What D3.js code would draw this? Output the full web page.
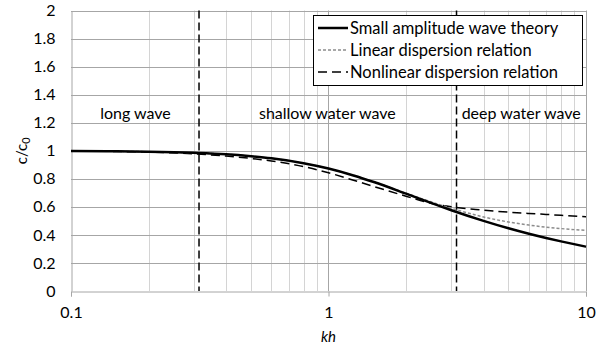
<!DOCTYPE html>
<html>
<head>
<meta charset="utf-8">
<script src="https://cdn.jsdelivr.net/npm/d3@7"></script>
<style>
  html, body { margin: 0; padding: 0; background: #fff; }
  svg { display: block; font-family: Lato, "Open Sans", sans-serif; }
</style>
</head>
<body>
<svg id="chart" width="610" height="349"></svg>
<script>
// kh sample points shared by all three curves
const kh = [0.1, 0.15, 0.2, 0.3, 0.4, 0.5, 0.6, 0.8, 1, 1.25, 1.5, 2, 2.5, 3, 4, 5, 6, 7, 8, 10];

// c/c0 for each theory
const smallAmplitude = [0.998, 0.996, 0.993, 0.985, 0.975, 0.961, 0.946, 0.911, 0.873, 0.824, 0.777, 0.694, 0.628, 0.576, 0.500, 0.447, 0.408, 0.378, 0.354, 0.316];
const linearDispersion = [0.998, 0.996, 0.993, 0.985, 0.975, 0.961, 0.946, 0.911, 0.873, 0.824, 0.778, 0.698, 0.636, 0.590, 0.528, 0.492, 0.470, 0.455, 0.445, 0.432];
const nonlinearDispersion = [0.998, 0.995, 0.990, 0.978, 0.962, 0.945, 0.927, 0.887, 0.843, 0.790, 0.745, 0.676, 0.625, 0.600, 0.577, 0.562, 0.553, 0.546, 0.540, 0.530];

const seriesNames = ["Small amplitude wave theory", "Linear dispersion relation", "Nonlinear dispersion relation"];

// region boundaries (kh = π/10 and kh = π) and their labels
const boundaries = [Math.PI / 10, Math.PI];
const regionLabels = [
  { text: "long wave", kh: 0.178 },
  { text: "shallow water wave", kh: 0.99 },
  { text: "deep water wave", kh: 5.6 }
];

const xTicks = [0.1, 1, 10];
const xMinor = [0.2, 0.3, 0.4, 0.5, 0.6, 0.7, 0.8, 0.9, 2, 3, 4, 5, 6, 7, 8, 9];
const yTicks = [0, 0.2, 0.4, 0.6, 0.8, 1, 1.2, 1.4, 1.6, 1.8, 2];

const svg = d3.select("#chart");
const m = { left: 71, right: 586, top: 10.5, bottom: 291 };

const x = d3.scaleLog().domain([0.1, 10]).range([m.left, m.right]);
const y = d3.scaleLinear().domain([0, 2]).range([m.bottom, m.top]);

// gridlines
const grid = svg.append("g");
grid.selectAll("line.vminor").data(xMinor).join("line")
  .attr("x1", d => Math.round(x(d)) + 0.5).attr("x2", d => Math.round(x(d)) + 0.5)
  .attr("y1", m.top).attr("y2", m.bottom)
  .attr("stroke", "#d4d4d4").attr("stroke-width", 1);
grid.selectAll("line.vmajor").data([1, 10]).join("line")
  .attr("x1", d => Math.round(x(d)) + 0.5).attr("x2", d => Math.round(x(d)) + 0.5)
  .attr("y1", m.top).attr("y2", m.bottom)
  .attr("stroke", "#a6a6a6").attr("stroke-width", 1);
grid.selectAll("line.h").data(yTicks.slice(1)).join("line")
  .attr("x1", m.left).attr("x2", m.right)
  .attr("y1", d => Math.round(y(d)) + 0.5).attr("y2", d => Math.round(y(d)) + 0.5)
  .attr("stroke", "#a6a6a6").attr("stroke-width", 1);

// axes
const xAxis = svg.append("g")
  .attr("transform", `translate(0,${Math.round(m.bottom) + 0.5})`)
  .call(d3.axisBottom(x).tickValues(xTicks).tickFormat(d3.format("~g")).tickSize(5).tickPadding(10));
xAxis.select(".domain").attr("stroke", "#a6a6a6");
xAxis.selectAll(".tick line").attr("stroke", "#a6a6a6");
xAxis.selectAll("text").attr("font-size", 16).attr("fill", "#000").attr("font-family", "Lato, sans-serif");

const yAxis = svg.append("g")
  .attr("transform", `translate(${Math.round(m.left) + 0.5},0)`)
  .call(d3.axisLeft(y).tickValues(yTicks).tickFormat(d3.format("~g")).tickSize(0).tickPadding(16));
yAxis.select(".domain").attr("stroke", "#a6a6a6");
yAxis.selectAll("text").attr("font-size", 16).attr("fill", "#000").attr("font-family", "Lato, sans-serif");

// axis titles
svg.append("text")
  .attr("x", x(1)).attr("y", 342)
  .attr("text-anchor", "middle").attr("font-size", 15).attr("font-style", "italic")
  .text("kh");

const yt = svg.append("text")
  .attr("transform", `translate(27,${y(1)}) rotate(-90)`)
  .attr("text-anchor", "middle").attr("font-size", 15);
yt.append("tspan").text("c/c");
yt.append("tspan").attr("font-size", 11).attr("dy", 3).text("0");

// region boundaries
svg.selectAll("line.bound").data(boundaries).join("line")
  .attr("x1", d => x(d)).attr("x2", d => x(d))
  .attr("y1", m.top).attr("y2", m.bottom)
  .attr("stroke", "#000").attr("stroke-width", 1.5)
  .attr("stroke-dasharray", "8,4");

// region labels
svg.selectAll("text.region").data(regionLabels).join("text")
  .attr("x", d => x(d.kh)).attr("y", 119)
  .attr("text-anchor", "middle").attr("font-size", 16)
  .text(d => d.text);

// curves
const pts = vals => kh.map((k, i) => [k, vals[i]]);
const line = d3.line().x(d => x(d[0])).y(d => y(d[1])).curve(d3.curveMonotoneX);

const styles = [
  { data: smallAmplitude, stroke: "#000", width: 2.5, dash: null },
  { data: linearDispersion, stroke: "#8c8c8c", width: 1.5, dash: "3,2" },
  { data: nonlinearDispersion, stroke: "#000", width: 1.5, dash: "9,5" }
];
const drawOrder = [2, 1, 0];
drawOrder.forEach(i => {
  const s = styles[i];
  svg.append("path")
    .attr("d", line(pts(s.data)))
    .attr("fill", "none")
    .attr("stroke", s.stroke).attr("stroke-width", s.width)
    .attr("stroke-dasharray", s.dash);
});

// legend
const lg = svg.append("g");
const lgBox = { x0: 313.5, y0: 15.5, x1: 582.5, y1: 85.5 };
lg.append("rect")
  .attr("x", lgBox.x0).attr("y", lgBox.y0)
  .attr("width", lgBox.x1 - lgBox.x0).attr("height", lgBox.y1 - lgBox.y0)
  .attr("fill", "#fff").attr("stroke", "#000").attr("stroke-width", 1);
seriesNames.forEach((name, i) => {
  const cy = 28 + i * 22;
  const s = styles[i];
  lg.append("line")
    .attr("x1", 318).attr("x2", 348).attr("y1", cy).attr("y2", cy)
    .attr("stroke", s.stroke).attr("stroke-width", s.width)
    .attr("stroke-dasharray", s.dash);
  lg.append("text")
    .attr("x", 350).attr("y", cy + 5.5)
    .attr("font-size", 16.5)
    .text(name);
});
</script>
</body>
</html>
